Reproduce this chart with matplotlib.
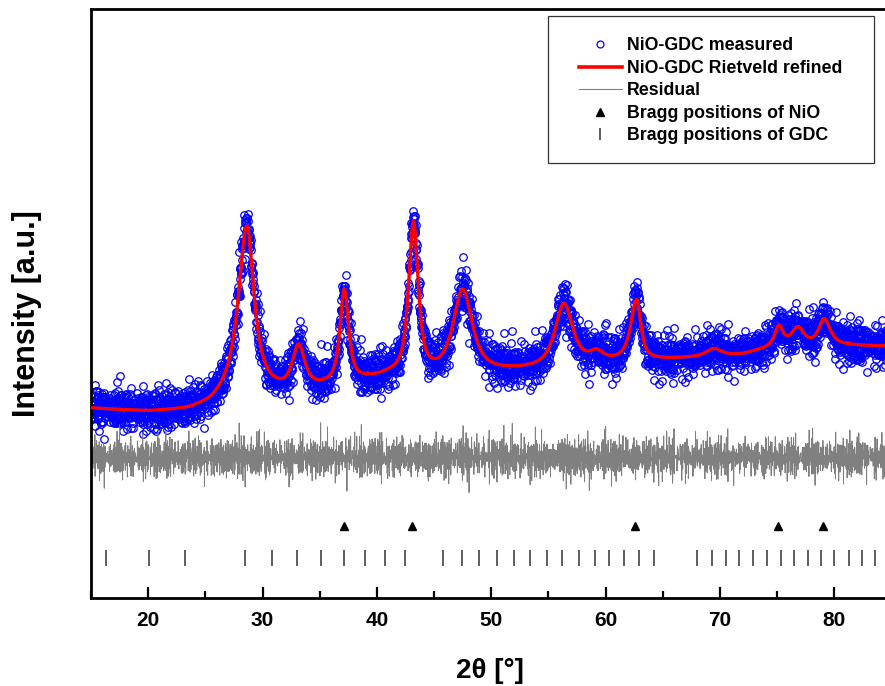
import numpy as np
import matplotlib
matplotlib.use("Agg")
import matplotlib.pyplot as plt
from matplotlib.lines import Line2D
from matplotlib.patches import Rectangle
from matplotlib.ticker import MultipleLocator

FONT = ["Liberation Sans", "DejaVu Sans"]
plt.rcParams["font.family"] = FONT
plt.rcParams["font.weight"] = "bold"

# ---- scan ---------------------------------------------------------------
scan_start, scan_stop, scan_step = 15.0, 85.3, 0.02

# ---- refined background (2theta, counts) --------------------------------
bg_theta = [15, 20, 23.5, 25.5, 27, 28.5, 30, 32, 35, 38, 41, 44, 46, 50, 54,
            58, 60, 62, 66, 70, 72, 73.5, 75, 77, 79, 81, 85.3]
bg_counts = [1893, 1855, 1862, 1895, 1960, 2000, 2020, 2030, 2080, 2140, 2200,
             2190, 2210, 2245, 2275, 2320, 2340, 2355, 2385, 2410, 2430, 2470,
             2500, 2515, 2520, 2520, 2515]

# ---- refined reflections --------------------------------------------------
peak_pos = [28.62, 33.15, 37.15, 43.2, 47.5, 56.35, 59.2, 62.7, 69.45, 75.15, 76.8, 79.1]
peak_height = [1705, 430, 930, 1530, 840, 625, 90, 607, 80, 200, 175, 260]
peak_fwhm_left = [1.8, 1.3, 0.9, 1.0, 2.0, 1.85, 1.4, 1.2, 1.6, 0.9, 1.3, 1.1]
peak_fwhm_right = [1.55, 1.3, 0.9, 1.0, 2.0, 1.85, 1.4, 0.9, 1.6, 0.9, 1.3, 1.3]
peak_eta = [0.95, 0.8, 0.8, 0.8, 0.8, 0.8, 0.8, 0.8, 0.8, 0.8, 0.8, 0.8]

# ---- observed minus calculated (counts), two interleaved blocks ----------
resid_block_a = [18, -72, 52, 105, -22, -93, 12, 62, -135, 40,
                 -50, 82, -8, 27, -106, 66, -33, 144, -57, 4,
                 92, -86, 36, -16, 225, -66, 22, -42, 75, -124,
                 46, -9, 99, -28, 14, -78, 57, -150, 33, 70,
                 -54, 8, 110, -38, 21, -100, 44, -14, 87, -62,
                 30, 165, -45, 3, -87, 64, -24, 51, -210, 16,
                 78, -36, -4, 128, -74, 39, -18, 58, -96, 26,
                 -52, 94, -2, 69, -130, 32, -30, 48, -68, 10,
                 102, -46, 20, -81, 60, -10, 38, -108, 86, -21,
                 6, 54, -90, 28, -58, 112, -39, 15, -70, 45, -27]
resid_block_b = [-40, 66, -14, 24, -82, 50, -105, 9, 76, -57,
                 33, -20, 118, -69, 2, 56, -32, 90, -126, 42,
                 -6, 63, -88, 22, -50, 240, -26, 12, -64, 38,
                 81, -99, 16, -42, 58, -3, 106, -75, 28, -54,
                 72, -16, 4, -117, 45, -34, 96, -12, 21, -70,
                 52, -195, 34, 14, -46, 86, -27, 68, -93, 3,
                 40, -60, 122, -22, 27, -80, 57, -9, 74, -38,
                 20, -104, 46, -4, 84, -56, 30, -18, 100, -66,
                 10, -87, 44, 62, -30, 150, -51, 24, -14]

# ---- reflection markers --------------------------------------------------
nio_bragg = [37.1, 43.1, 62.55, 75.05, 79.05]
gdc_bragg = [16.35, 20.05, 23.2, 28.5, 30.85, 33.0, 35.1, 37.1, 38.95, 40.75,
             42.5, 45.8, 47.4, 48.95, 50.5, 51.95, 53.4, 54.85, 56.2, 57.65,
             59.05, 60.3, 61.65, 62.95, 64.25, 68.0, 69.3, 70.5, 71.7, 72.9,
             74.1, 75.35, 76.5, 77.7, 78.85, 80.0, 81.25, 82.4, 83.6]

# vertical placement of the lower panels (counts)
residual_level = 1400
nio_row = 717
gdc_row = 405

labels = ["NiO-GDC measured", "NiO-GDC Rietveld refined", "Residual",
          "Bragg positions of NiO", "Bragg positions of GDC"]


def pseudo_voigt(x, pos, height, fwhm_l, fwhm_r, eta):
    hw = np.where(x < pos, fwhm_l, fwhm_r) / 2.0
    u = ((x - pos) / hw) ** 2
    return height * (eta / (1.0 + u) + (1.0 - eta) * np.exp(-np.log(2.0) * u))


two_theta = np.arange(scan_start, scan_stop, scan_step)
calc = np.interp(two_theta, bg_theta, bg_counts)
for p, h, fl, fr, e in zip(peak_pos, peak_height, peak_fwhm_left, peak_fwhm_right, peak_eta):
    calc = calc + pseudo_voigt(two_theta, p, h, fl, fr, e)

idx = np.arange(two_theta.size)
ra = np.asarray(resid_block_a, float)
rb = np.asarray(resid_block_b, float)
residual = ra[idx % ra.size] + rb[idx % rb.size]
observed = calc + residual

# ---- figure ---------------------------------------------------------------
W, H = 885, 686
fig = plt.figure(figsize=(W / 100, H / 100), dpi=100)
ax = fig.add_axes([91 / W, 88 / H, 800.5 / W, 589 / H])

ax.plot(two_theta, observed, "o", mfc="none", mec="#0000ff", ms=5.4, mew=0.9, zorder=2)
ax.plot(two_theta, calc, color="#ff0000", lw=2.4, zorder=3)
ax.plot(two_theta, residual_level + residual, color="#808080", lw=0.7, zorder=2)
ax.plot(nio_bragg, [nio_row] * len(nio_bragg), "^", color="black", ms=6, zorder=3)
ax.plot(gdc_bragg, [gdc_row] * len(gdc_bragg), "|", color="#333333", ms=11, mew=1.1, zorder=3)

ax.set_xlim(15, 85)
ax.set_ylim(0, 5890)
ax.xaxis.set_major_locator(MultipleLocator(10))
ax.xaxis.set_minor_locator(MultipleLocator(5))
ax.tick_params(axis="x", which="both", direction="in", top=False, bottom=True,
               width=1.6, labelsize=15, pad=9)
ax.tick_params(axis="x", which="major", length=8)
ax.tick_params(axis="x", which="minor", length=5)
ax.tick_params(axis="y", left=False, labelleft=False)
for lab in ax.get_xticklabels():
    lab.set_fontweight("bold")
for s in ax.spines.values():
    s.set_linewidth(2.0)

fig.text(27 / W, 1 - 314 / H, "Intensity [a.u.]", rotation=90, ha="center",
         va="center", fontsize=22, fontweight="bold")
fig.text(490 / W, 1 - 678 / H, "2θ [°]", ha="center", va="baseline",
         fontsize=20, fontweight="bold")

# legend
fig.add_artist(Rectangle((548 / W, 1 - 163 / H), 326 / W, 147.3 / H,
                         transform=fig.transFigure, fill=False,
                         edgecolor="#333333", lw=0.9))
handles = [
    Line2D([], [], ls="none", marker="o", mfc="none", mec="#0000ff", ms=5.0, mew=0.9),
    Line2D([], [], color="#ff0000", lw=2.6),
    Line2D([], [], color="#808080", lw=0.8),
    Line2D([], [], ls="none", marker="^", color="black", ms=6),
    Line2D([], [], ls="none", marker="|", color="#333333", ms=9, mew=1.1),
]
ax.legend(handles, labels, loc="upper left", bbox_to_anchor=(579 / W, 1 - 37.3 / H),
          bbox_transform=fig.transFigure, frameon=False, borderpad=0,
          borderaxespad=0, handlelength=2.4, handletextpad=0.28,
          labelspacing=0.31, numpoints=1,
          prop={"family": FONT, "weight": "bold", "size": 12.8})

fig.savefig("out.png", dpi=100)
